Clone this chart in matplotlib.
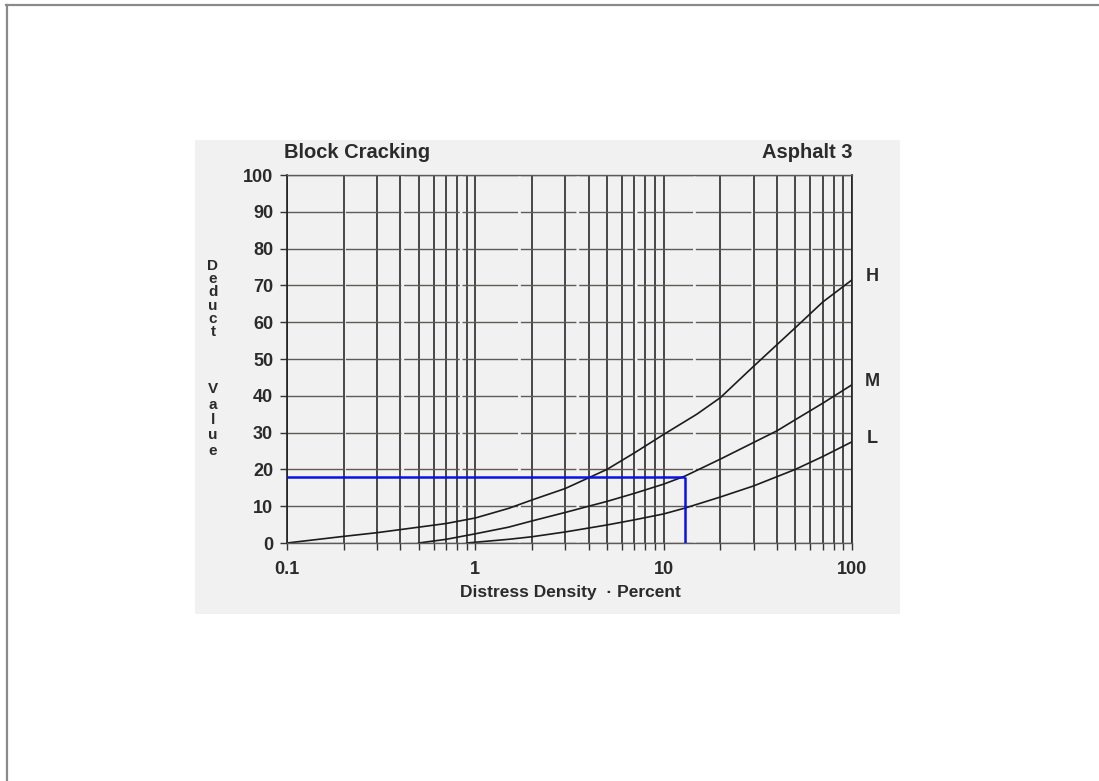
import numpy as np
import matplotlib
matplotlib.use("Agg")
import matplotlib.pyplot as plt
from matplotlib.lines import Line2D
from matplotlib.patches import Rectangle

plt.rcParams["font.family"] = ["Liberation Sans", "DejaVu Sans"]

# =============================
#  Data
# =============================
h_x = [0.1, 0.2, 0.3, 0.5, 0.7, 1, 1.5, 2, 3, 5, 7, 10, 15, 20, 30, 50, 70, 100]
h_y = [0, 1.8, 2.8, 4.3, 5.3, 6.8, 9.4, 11.7, 14.8, 20, 24.5, 29.5, 35, 39.5, 48, 58.5, 65.5, 71.5]

m_x = [0.5, 0.7, 1, 1.5, 2, 3, 4, 5, 7, 10, 13, 20, 30, 40, 50, 70, 100]
m_y = [0, 1, 2.5, 4.3, 6, 8.3, 10, 11.3, 13.5, 16, 18.2, 22.8, 27.3, 30.5, 33.5, 38, 43]

l_x = [0.9, 1.5, 2, 3, 5, 7, 10, 13, 20, 30, 50, 70, 100]
l_y = [0, 1, 1.7, 3, 4.9, 6.3, 7.9, 9.5, 12.5, 15.5, 20, 23.5, 27.5]

curve_names = ["H", "M", "L"]
curve_label_y = [72.5, 44, 28.5]

reading_x = 13
reading_y = 18

x_major = [0.1, 1, 10, 100]
x_major_labels = ["0.1", "1", "10", "100"]
y_ticks = list(range(0, 101, 10))

W, H = 1099, 781
TXT = "#2b2b2b"


def fx(px):
    return px / W


def fy(py):
    return 1 - py / H


fig = plt.figure(figsize=(W / 100, H / 100), dpi=100)
fig.patch.set_facecolor("white")

# ---- frame of the page ----
fig.add_artist(Line2D([fx(6), fx(W)], [fy(5), fy(5)], color="#8a8a8a", lw=1.6))
fig.add_artist(Line2D([fx(7), fx(7)], [fy(5), fy(H)], color="#8a8a8a", lw=1.6))

# ---- scanned sheet ----
fig.add_artist(Rectangle((fx(195), fy(614)), fx(900) - fx(195), fy(140) - fy(614),
                         transform=fig.transFigure, facecolor="#f1f1f1",
                         edgecolor="none", zorder=0))

ax = fig.add_axes([fx(287), fy(543), fx(852) - fx(287), fy(175) - fy(543)])
ax.set_facecolor("none")
ax.set_xscale("log")
ax.set_xlim(0.1, 100)
ax.set_ylim(0, 100)

ax.set_xticks(x_major)
ax.set_xticklabels(x_major_labels)
ax.set_xticks([m * d for d in (0.1, 1, 10) for m in range(2, 10)], minor=True)
ax.xaxis.set_minor_formatter(matplotlib.ticker.NullFormatter())
ax.set_yticks(y_ticks)

ax.grid(which="both", axis="x", color="#222222", lw=1.15)
ax.grid(which="major", axis="y", color="#5e5a55", lw=1.0, linestyle=(0, (40, 2)))
ax.set_axisbelow(True)

for s in ("left", "right"):
    ax.spines[s].set_color("#222222")
    ax.spines[s].set_linewidth(1.2)
for s in ("top", "bottom"):
    ax.spines[s].set_color("#5e5a55")
    ax.spines[s].set_linewidth(1.0)

ax.tick_params(axis="both", which="both", direction="out", length=5, width=1,
               color="#333333", labelcolor=TXT, labelsize=13)
ax.tick_params(axis="x", which="major", pad=8)
ax.tick_params(axis="y", which="major", pad=5)
for lab in ax.get_xticklabels() + ax.get_yticklabels():
    lab.set_fontweight("bold")

# ---- curves ----
ax.plot(h_x, h_y, color="#1c1c1c", lw=1.2)
ax.plot(m_x, m_y, color="#1c1c1c", lw=1.2)
ax.plot(l_x, l_y, color="#1c1c1c", lw=1.2)

for name, yv in zip(curve_names, curve_label_y):
    ax.text(1.036, yv, name, transform=ax.get_yaxis_transform(), ha="center",
            va="center", fontsize=13, fontweight="bold", color=TXT)

# ---- reading lines ----
ax.plot([0.1, reading_x], [reading_y, reading_y], color="#0a10e6", lw=1.8,
        solid_capstyle="butt", zorder=5)
ax.plot([reading_x, reading_x], [0, reading_y], color="#0a10e6", lw=1.8,
        solid_capstyle="butt", zorder=5)

# ---- texts ----
fig.text(fx(284), fy(152), "Block Cracking", ha="left", va="center",
         fontsize=14.5, fontweight="bold", color=TXT)
fig.text(fx(852), fy(152), "Asphalt 3", ha="right", va="center",
         fontsize=14.5, fontweight="bold", color=TXT)
fig.text(fx(570), fy(592), "Distress Density  \u00b7 Percent", ha="center",
         va="center", fontsize=12.5, fontweight="bold", color=TXT)

fig.text(fx(213), fy(299), "\n".join("Deduct"), ha="center", va="center",
         multialignment="center", fontsize=11, fontweight="bold", color=TXT,
         linespacing=0.92)
fig.text(fx(213), fy(420), "\n".join("Value"), ha="center", va="center",
         multialignment="center", fontsize=11, fontweight="bold", color=TXT,
         linespacing=1.12)

fig.savefig("out.png", dpi=100)
